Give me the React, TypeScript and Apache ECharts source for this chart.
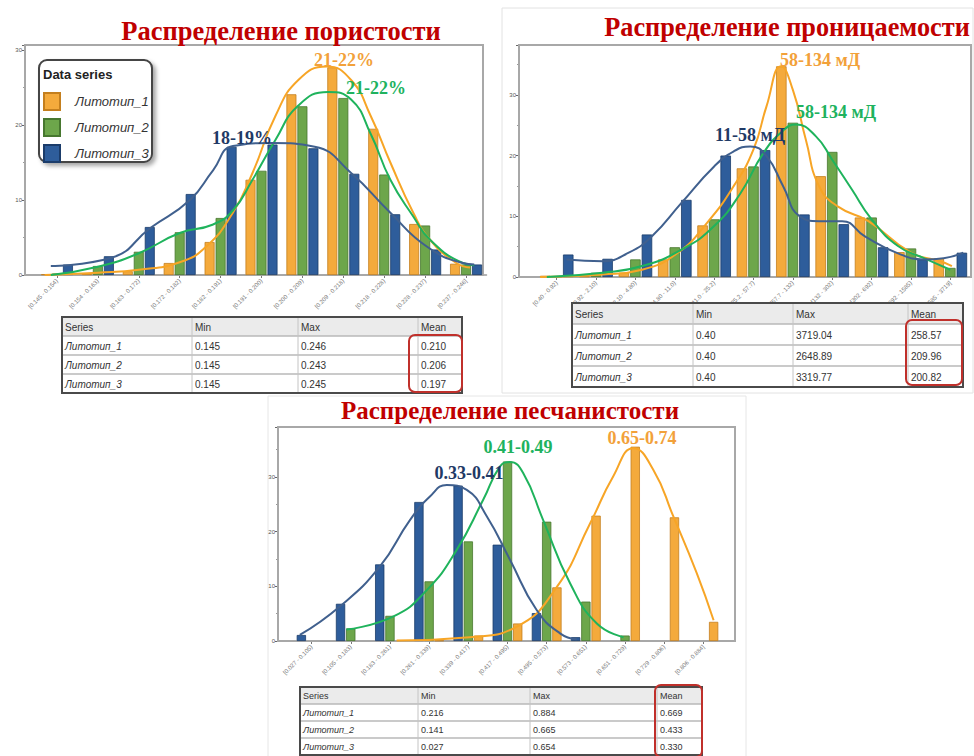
import React, { useEffect, useRef } from "react";
import * as echarts from "echarts";

// ---------- DATA ----------
const seriesNames = ["Литотип_1", "Литотип_2", "Литотип_3"];
const yTicks = [0, 10, 20, 30];

// Porosity (top-left)
const porosityBins = [
  "[0.145 - 0.154)", "[0.154 - 0.163)", "[0.163 - 0.172)", "[0.172 - 0.182)",
  "[0.182 - 0.191)", "[0.191 - 0.200)", "[0.200 - 0.209)", "[0.209 - 0.218)",
  "[0.218 - 0.228)", "[0.228 - 0.237)", "[0.237 - 0.246]",
];
const porosityL1 = [0.1, 0.2, 0.5, 1.6, 4.4, 12.7, 24.1, 27.7, 19.5, 6.8, 1.5];
const porosityL2 = [0.2, 1.2, 3.1, 5.7, 7.6, 13.9, 22.5, 23.6, 13.4, 6.6, 1.4];
const porosityL3 = [1.4, 2.5, 6.4, 10.8, 17.1, 17.4, 16.9, 13.5, 8.1, 3.4, 1.4];
const porosityCurve1 = [[-0.3, 0], [1.0, 0.3], [2.0, 0.7], [3.0, 1.7], [3.65, 3.8], [4.3, 8.3], [4.78, 13.6], [5.34, 21.2], [5.9, 26.0], [6.59, 27.8], [7.19, 26.0], [7.67, 21.2], [8.15, 15.0], [8.71, 8.3], [9.12, 4.7], [9.76, 1.6], [10.1, 1.0]];
const porosityCurve2 = [[-0.15, 0], [1.0, 1.1], [2.0, 2.9], [3.0, 5.6], [3.8, 6.7], [4.3, 8.6], [4.78, 12.7], [5.34, 18.0], [5.9, 22.6], [6.63, 24.4], [7.19, 23.4], [7.67, 18.8], [8.15, 12.7], [8.71, 7.8], [9.12, 4.7], [9.92, 1.6], [10.2, 1.3]];
const porosityCurve3 = [[-0.15, 1.2], [1.33, 2.3], [2.29, 6.3], [3.25, 10.0], [3.82, 14.0], [4.3, 17.2], [5.26, 17.6], [6.3, 17.1], [7.19, 13.6], [8.15, 8.3], [9.04, 3.8], [9.92, 1.6], [10.2, 1.4]];
const porosityStats = [
  ["Литотип_1", "0.145", "0.246", "0.210"],
  ["Литотип_2", "0.145", "0.243", "0.206"],
  ["Литотип_3", "0.145", "0.245", "0.197"],
];

// Permeability (top-right)
const permBins = [
  "[0.40 - 0.92)", "[0.92 - 2.10)", "[2.10 - 4.80)", "[4.80 - 11.0)",
  "[11.0 - 25.2)", "[25.2 - 57.7)", "[57.7 - 132)", "[132 - 302)",
  "[302 - 692)", "[692 - 1585)", "[1585 - 3719]",
];
const permL1 = [0.2, 0.1, 0.7, 2.9, 8.5, 17.9, 34.7, 16.6, 9.8, 4.1, 3.1];
const permL2 = [0.1, 0.7, 2.9, 4.9, 9.5, 18.2, 25.4, 20.6, 9.8, 4.7, 1.5];
const permL3 = [3.7, 3.0, 7.0, 12.7, 20.0, 20.9, 10.3, 8.7, 4.9, 2.9, 4.0];
const permCurve1 = [[-0.42, 0], [1.17, 0.4], [2.17, 1.2], [3.08, 4.0], [3.83, 9.0], [4.5, 15.0], [5.0, 21.0], [5.33, 28.1], [5.7, 34.7], [6.0, 30.8], [6.33, 22.6], [6.67, 14.9], [7.17, 11.5], [7.92, 9.2], [9.0, 4.0], [9.75, 2.6], [10.04, 1.8]];
const permCurve2 = [[-0.25, 0], [1.17, 0.7], [2.17, 1.8], [3.17, 4.5], [4.0, 8.4], [4.67, 13.8], [5.25, 20.4], [5.75, 24.1], [6.08, 25.1], [6.58, 23.2], [7.0, 19.3], [7.5, 14.4], [8.0, 9.5], [8.67, 5.1], [9.33, 3.1], [10.0, 1.2]];
const permCurve3 = [[0.25, 2.9], [1.17, 2.6], [1.83, 4.0], [2.42, 6.7], [3.17, 12.2], [4.0, 18.2], [4.5, 20.7], [4.92, 21.5], [5.33, 19.9], [5.75, 15.0], [6.17, 10.0], [6.67, 9.2], [7.25, 9.2], [7.83, 6.7], [8.67, 3.9], [9.33, 2.9], [9.83, 3.1], [10.33, 4.0]];
const permStats = [
  ["Литотип_1", "0.40", "3719.04", "258.57"],
  ["Литотип_2", "0.40", "2648.89", "209.96"],
  ["Литотип_3", "0.40", "3319.77", "200.82"],
];

// Net-to-gross (bottom)
const sandBins = [
  "[0.027 - 0.105)", "[0.105 - 0.183)", "[0.183 - 0.261)", "[0.261 - 0.339)",
  "[0.339 - 0.417)", "[0.417 - 0.495)", "[0.495 - 0.573)", "[0.573 - 0.651)",
  "[0.651 - 0.729)", "[0.729 - 0.806)", "[0.806 - 0.884]",
];
const sandL1 = [null, null, null, 0.1, 1.0, 3.2, 9.8, 22.9, 35.5, 22.6, 3.5];
const sandL2 = [null, 2.3, 4.6, 10.9, 18.2, 32.8, 21.8, 7.2, 1.0, null, null];
const sandL3 = [1.1, 6.8, 14.0, 25.4, 28.4, 17.6, 5.1, 0.7, null, null, null];
const sandCurve1 = [[2.17, 0.1], [4.04, 0.7], [5.23, 2.6], [6.26, 9.9], [7.11, 21.5], [7.7, 30.1], [8.21, 35.2], [8.72, 31.3], [9.23, 22.8], [9.83, 12.4], [10.26, 3.8]];
const sandCurve2 = [[0.89, 2.1], [2.09, 4.5], [2.94, 9.3], [3.7, 16.6], [4.38, 25.8], [4.81, 31.9], [5.06, 32.7], [5.4, 30.7], [5.91, 22.1], [6.6, 10.5], [7.28, 3.2], [7.96, 0.7]];
const sandCurve3 = [[-0.3, 1.1], [0.72, 6.3], [1.74, 13.6], [2.51, 22.1], [3.02, 26.4], [3.45, 28.5], [3.96, 27.6], [4.47, 22.8], [5.06, 14.9], [5.74, 5.7], [6.34, 1.4], [6.77, 0.3]];
const sandStats = [
  ["Литотип_1", "0.216", "0.884", "0.669"],
  ["Литотип_2", "0.141", "0.665", "0.433"],
  ["Литотип_3", "0.027", "0.654", "0.330"],
];

const tableHeader = ["Series", "Min", "Max", "Mean"];
const chartTitles = ["Распределение пористости", "Распределение проницаемости", "Распределение песчанистости"];
const peakLabels = [
  ["21-22%", "21-22%", "18-19%"],
  ["58-134 мД", "58-134 мД", "11-58 мД"],
  ["0.65-0.74", "0.41-0.49", "0.33-0.41"],
];

// ---------- STYLE / LAYOUT ----------
const BAR = ["#F4AA3C", "#6DA64B", "#2E5D9B"];
const BAR_BORDER = ["#C47F1E", "#47772F", "#1B3C6A"];
const CURVE = ["#F7A526", "#1FB35C", "#40608E"];
const LABEL = ["#F2A13A", "#20B25E", "#1F3A66"];
const TITLE_RED = "#C00000";

const GRIDS = [
  { left: 36.5, top: 45, width: 450, height: 230 },
  { left: 537, top: 45, width: 433, height: 232 },
  { left: 292, top: 427, width: 431, height: 214 },
];
const FRAMES = [
  { x: 25, y: 45, w: 458, h: 230 },
  { x: 519, y: 45, w: 452, h: 232 },
  { x: 278, y: 427, w: 457, h: 214 },
];
const Y_MAX = [30.67, 38.2, 39.1];
const BAR_W = [10, 10.5, 9.3];
const TITLE_POS = [[281, 31], [787, 27], [510, 410]];
const TITLE_SIZE = [26.5, 26.3, 25];
const PEAK_POS = [
  [[344, 60], [376, 88], [242, 138]],
  [[820, 60], [836, 112], [750, 135]],
  [[642, 438], [518, 447], [469, 473]],
];
const TABLES = [
  { x: 62, y: 317, w: 400, rowH: 19, cols: [62, 192, 298, 418], font: 10, box: [409, 335, 53, 57] },
  { x: 572, y: 303, w: 391, rowH: 21, cols: [572, 693, 793, 908], font: 10, box: [906, 320, 56, 65] },
  { x: 300, y: 687, w: 402, rowH: 17, cols: [300, 418, 530, 657], font: 9, box: [655, 685, 47, 72] },
];

function buildTable(L: any, rows: string[][]): any[] {
  const els: any[] = [];
  const h = L.rowH * (rows.length + 1);
  els.push({ type: "rect", z: 10, shape: { x: L.x, y: L.y, width: L.w, height: h }, style: { fill: "#fff" } });
  els.push({ type: "rect", z: 10, shape: { x: L.x, y: L.y, width: L.w, height: L.rowH }, style: { fill: "#ebebeb" } });
  for (let r = 1; r <= rows.length; r++) {
    els.push({ type: "line", z: 11, shape: { x1: L.x, y1: L.y + r * L.rowH, x2: L.x + L.w, y2: L.y + r * L.rowH }, style: { stroke: "#b8b8b8", lineWidth: 1.5 } });
  }
  L.cols.slice(1).forEach((cx: number) => {
    els.push({ type: "line", z: 11, shape: { x1: cx, y1: L.y, x2: cx, y2: L.y + h }, style: { stroke: "#c4c4c4", lineWidth: 1 } });
  });
  els.push({ type: "rect", z: 12, shape: { x: L.x, y: L.y, width: L.w, height: h }, style: { fill: "none", stroke: "#4a4a4a", lineWidth: 2 } });
  const all = [tableHeader, ...rows];
  all.forEach((row, ri) => {
    row.forEach((cell, ci) => {
      const italic = ri > 0 && ci === 0;
      els.push({
        type: "text", z: 13,
        x: L.cols[ci] + 3, y: L.y + ri * L.rowH + L.rowH / 2 + 0.5,
        style: {
          text: cell, fill: "#333",
          font: `${italic ? "italic " : ""}${L.font}px "Liberation Sans", Arial, sans-serif`,
          textAlign: "left", align: "left", textVerticalAlign: "middle", verticalAlign: "middle",
        },
      });
    });
  });
  els.push({ type: "rect", z: 14, shape: { x: L.box[0], y: L.box[1], width: L.box[2], height: L.box[3], r: 6 }, style: { fill: "none", stroke: "#C0302B", lineWidth: 2 } });
  return els;
}

export default function App() {
  const ref = useRef<HTMLDivElement>(null);
  useEffect(() => {
    document.body.style.margin = "0";
    document.body.style.overflow = "hidden";
    if (!ref.current) return;
    const chart = echarts.init(ref.current, undefined, { renderer: "svg" });

    const cats = [porosityBins, permBins, sandBins];
    const bars = [
      [porosityL1, porosityL2, porosityL3],
      [permL1, permL2, permL3],
      [sandL1, sandL2, sandL3],
    ];
    const curves = [
      [porosityCurve1, porosityCurve2, porosityCurve3],
      [permCurve1, permCurve2, permCurve3],
      [sandCurve1, sandCurve2, sandCurve3],
    ];
    // bottom chart draws Литотип_3 first (left), then 2, then 1
    const barOrder = [[0, 1, 2], [0, 1, 2], [2, 1, 0]];

    const xAxis: any[] = [];
    const yAxis: any[] = [];
    const series: any[] = [];
    GRIDS.forEach((g, gi) => {
      xAxis.push({
        type: "category", gridIndex: gi, data: cats[gi],
        axisLine: { show: true, onZero: false, lineStyle: { color: "#9a9a9a", width: 1.5 } },
        axisTick: { show: true, alignWithLabel: true, length: 3, lineStyle: { color: "#777" } },
        axisLabel: { interval: 0, rotate: 45, fontSize: 6, color: "#777", margin: 5, fontFamily: "Liberation Sans" },
      });
      xAxis.push({ type: "value", gridIndex: gi, min: -0.5, max: 10.5, show: false });
      yAxis.push({
        type: "value", gridIndex: gi, min: 0, max: Y_MAX[gi], interval: 10,
        offset: g.left - FRAMES[gi].x,
        axisLine: { show: true, onZero: false, lineStyle: { color: "#9a9a9a", width: 1.5 } },
        axisTick: { show: true, length: 3, lineStyle: { color: "#666" } },
        minorTick: { show: true, splitNumber: 2, length: 2, lineStyle: { color: "#999" } },
        splitLine: { show: false },
        axisLabel: { fontSize: 6, color: "#555", margin: 3, showMaxLabel: false, fontFamily: "Liberation Sans",
          formatter: (v: number) => (yTicks.includes(v) ? String(v) : "") },
      });
      barOrder[gi].forEach((k) => {
        series.push({
          type: "bar", name: seriesNames[k], xAxisIndex: gi * 2, yAxisIndex: gi,
          data: bars[gi][k], barWidth: BAR_W[gi], barGap: "10%",
          itemStyle: { color: BAR[k], borderColor: BAR_BORDER[k], borderWidth: 0.8 },
          z: 2,
        });
      });
      [0, 1, 2].forEach((k) => {
        series.push({
          type: "line", name: seriesNames[k] + " (кривая)", xAxisIndex: gi * 2 + 1, yAxisIndex: gi,
          data: curves[gi][k], smooth: 0.5, showSymbol: false, symbol: "none",
          lineStyle: { color: CURVE[k], width: 2 }, itemStyle: { color: CURVE[k] }, z: 3,
        });
      });
    });

    const graphic: any[] = [];
    graphic.push({ type: "rect", z: 0, shape: { x: 502, y: 8, width: 471, height: 385 }, style: { fill: "none", stroke: "#e2e2e2", lineWidth: 1 } });
    graphic.push({ type: "rect", z: 0, shape: { x: 268, y: 396, width: 478, height: 362 }, style: { fill: "none", stroke: "#e6e6e6", lineWidth: 1 } });
    FRAMES.forEach((f) => {
      graphic.push({ type: "rect", z: 1, shape: { x: f.x, y: f.y, width: f.w, height: f.h }, style: { fill: "none", stroke: "#a8a8a8", lineWidth: 2 } });
    });
    chartTitles.forEach((t, i) => {
      graphic.push({
        type: "text", z: 20, x: TITLE_POS[i][0], y: TITLE_POS[i][1],
        style: { text: t, fill: TITLE_RED, font: `bold ${TITLE_SIZE[i]}px "Liberation Serif", "Times New Roman", serif`,
          textAlign: "center", align: "center", textVerticalAlign: "middle", verticalAlign: "middle" },
      });
    });
    peakLabels.forEach((row, gi) => {
      row.forEach((t, j) => {
        graphic.push({
          type: "text", z: 20, x: PEAK_POS[gi][j][0], y: PEAK_POS[gi][j][1],
          style: { text: t, fill: LABEL[j], font: 'bold 18px "Liberation Serif", "Times New Roman", serif',
            textAlign: "center", align: "center", textVerticalAlign: "middle", verticalAlign: "middle" },
        });
      });
    });
    graphic.push({
      type: "rect", z: 5, shape: { x: 39, y: 60, width: 113, height: 102, r: 8 },
      style: { fill: "#fff", stroke: "#444", lineWidth: 2, shadowBlur: 4, shadowColor: "rgba(0,0,0,0.35)", shadowOffsetX: 3, shadowOffsetY: 3 },
    });
    graphic.push({
      type: "text", z: 6, x: 43, y: 74,
      style: { text: "Data series", fill: "#222", font: 'bold 13px "Liberation Sans", Arial, sans-serif',
        textAlign: "left", align: "left", textVerticalAlign: "middle", verticalAlign: "middle" },
    });
    TABLES.forEach((L, i) => {
      graphic.push(...buildTable(L, [porosityStats, permStats, sandStats][i]));
    });

    chart.setOption({
      animation: false,
      backgroundColor: "#ffffff",
      grid: GRIDS.map((g) => ({ ...g, containLabel: false })),
      xAxis, yAxis, series,
      legend: {
        data: seriesNames, orient: "vertical", left: 43, top: 92, padding: 0,
        itemWidth: 16, itemHeight: 17, itemGap: 7, icon: "rect", z: 7,
        textStyle: { fontSize: 13, fontStyle: "italic", color: "#333", fontFamily: "Liberation Sans", padding: [0, 0, 0, 10] },
      },
      graphic,
    });
    return () => chart.dispose();
  }, []);
  return <div ref={ref} style={{ width: 974, height: 756 }} />;
}
